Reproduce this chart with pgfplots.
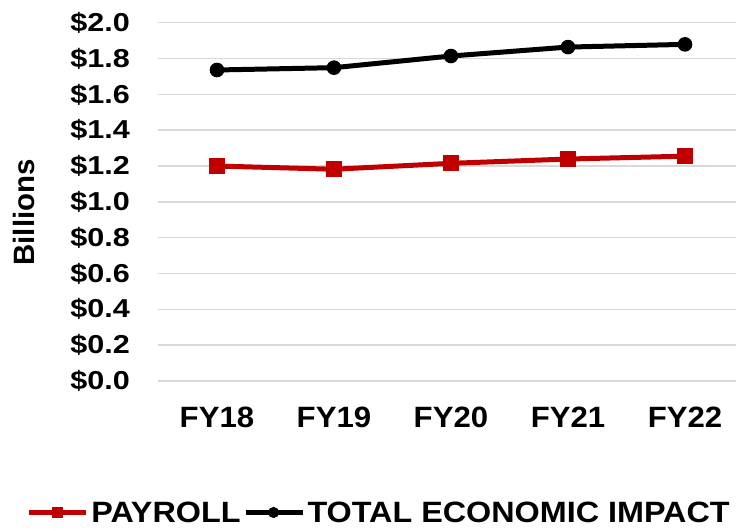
\documentclass[border=0pt]{standalone}
\usepackage{pgfplots}
\pgfplotsset{compat=1.18}
\usepackage{fontspec}
\setmainfont{Liberation Sans}
\definecolor{payred}{HTML}{C00000}
\definecolor{gridgray}{HTML}{D9D9D9}
\begin{document}
\begin{tikzpicture}
\begin{axis}[
  scale only axis, width=578bp, height=358.3bp,
  xmin=-0.504, xmax=4.436, ymin=0, ymax=2,
  axis line style={draw=none},
  major tick length=0,
  clip=false,
  xtick={0,1,2,3,4},
  ytick={0,0.2,0.4,0.6,0.8,1.0,1.2,1.4,1.6,1.8,2.0},
  ymajorgrids, grid style={gridgray, line width=1.5bp},
  /pgf/number format/assume math mode=true,
  yticklabel={\scalebox{1.18}[1]{\$\pgfmathprintnumber[fixed,fixed zerofill,precision=1]{\tick}}},
  yticklabel style={anchor=east, inner sep=0pt, xshift=-28bp, font=\fontsize{26}{30}\selectfont\bfseries},
  xticklabels={\scalebox{1.06}[1]{FY18},\scalebox{1.06}[1]{FY19},\scalebox{1.06}[1]{FY20},\scalebox{1.06}[1]{FY21},\scalebox{1.06}[1]{FY22}},
  xticklabel style={anchor=north, inner sep=0pt, yshift=-26bp, font=\fontsize{29.5}{34}\selectfont\bfseries},
  ylabel={Billions},
  ylabel style={at={(axis description cs:-0.2128,0.4703)}, anchor=south, inner sep=0pt, font=\fontsize{29.5}{34}\selectfont\bfseries},
  legend columns=2,
  legend style={at={(axis description cs:-0.2267,-0.367)}, anchor=west, draw=none, fill=none, inner sep=0pt, outer sep=0pt, column sep=2.5bp,
    font=\fontsize{29.5}{34}\selectfont\bfseries, nodes={inner sep=0pt}},
  legend image code/.code={\draw[mark repeat=2,mark phase=2,#1,mark size=5bp] plot coordinates {(0bp,0bp) (28bp,0bp) (57bp,0bp)};},
]
\addplot[payred, line width=5bp, mark=square*, mark size=7.5bp, mark options={solid, line width=1bp}] coordinates {(0,1.200) (1,1.182) (2,1.215) (3,1.239) (4,1.255)};
\addlegendentry{\scalebox{1.1}[1]{PAYROLL}\hspace{9bp}}
\addplot[black, line width=5bp, mark=*, mark size=6.8bp, mark options={solid, line width=1bp}] coordinates {(0,1.736) (1,1.749) (2,1.814) (3,1.864) (4,1.879)};
\addlegendentry{\scalebox{1.1}[1]{TOTAL ECONOMIC IMPACT}}
\end{axis}
\pgfresetboundingbox
\useasboundingbox (-158bp,-150bp) rectangle (578bp,381bp);
\end{tikzpicture}
\end{document}
